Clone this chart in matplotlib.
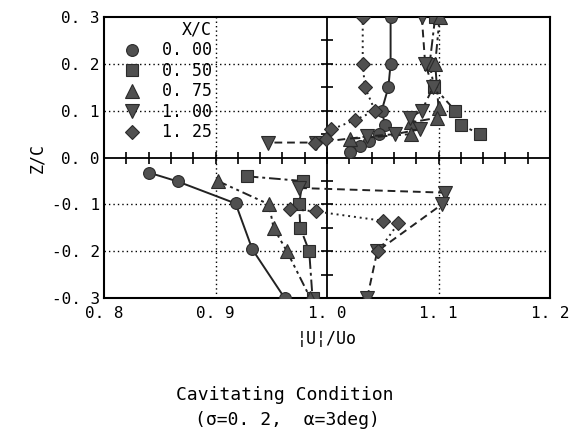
import matplotlib
matplotlib.use("Agg")
import matplotlib.pyplot as plt
import numpy as np
from matplotlib.lines import Line2D

# ---- data ----
labels = ["0. 00", "0. 50", "0. 75", "1. 00", "1. 25"]

c_up_z = [0.30, 0.20, 0.15, 0.10, 0.07, 0.05, 0.035, 0.025, 0.012]
c_up_x = [1.057, 1.057, 1.055, 1.049, 1.052, 1.047, 1.038, 1.030, 1.021]
c_lo_z = [-0.032, -0.051, -0.098, -0.196, -0.30]
c_lo_x = [0.840, 0.866, 0.918, 0.933, 0.962]

s_up_z = [0.30, 0.20, 0.15, 0.10, 0.07, 0.05]
s_up_x = [1.097, 1.092, 1.096, 1.115, 1.120, 1.137]
s_lo_z = [-0.040, -0.050, -0.100, -0.150, -0.200, -0.30]
s_lo_x = [0.928, 0.978, 0.975, 0.976, 0.984, 0.987]

tu_up_z = [0.30, 0.20, 0.105, 0.085, 0.075, 0.05, 0.04]
tu_up_x = [1.101, 1.097, 1.100, 1.099, 1.075, 1.075, 1.021]
tu_lo_z = [-0.050, -0.100, -0.150, -0.200, -0.30]
tu_lo_x = [0.902, 0.948, 0.952, 0.964, 0.985]

td_up_z = [0.30, 0.20, 0.15, 0.10, 0.085, 0.06, 0.05, 0.045, 0.032, 0.032]
td_up_x = [1.085, 1.088, 1.095, 1.085, 1.074, 1.083, 1.061, 1.036, 0.990, 0.947]
td_lo_z = [-0.065, -0.075, -0.100, -0.200, -0.30]
td_lo_x = [0.975, 1.106, 1.103, 1.045, 1.036]

d_up_z = [0.30, 0.20, 0.15, 0.10, 0.08, 0.06, 0.04, 0.032]
d_up_x = [1.032, 1.032, 1.034, 1.043, 1.025, 1.004, 0.999, 0.989]
d_lo_z = [-0.110, -0.115, -0.135, -0.140, -0.200]
d_lo_x = [0.967, 0.990, 1.050, 1.064, 1.046]

xticks = [0.8, 0.9, 1.0, 1.1, 1.2]
xticklabels = ["0. 8", "0. 9", "1. 0", "1. 1", "1. 2"]
yticks = [-0.3, -0.2, -0.1, 0.0, 0.1, 0.2, 0.3]
yticklabels = ["-0. 3", "-0. 2", "-0. 1", "0. 0", "0. 1", "0. 2", "0. 3"]

# ---- styles ----
FONT = "DejaVu Sans Mono"
FC = "#505050"
EC = "#2a2a2a"
styles = [
    dict(marker="o", ms=8.5, ls="-"),
    dict(marker="s", ms=8, ls=(0, (6, 2, 1.5, 2))),
    dict(marker="^", ms=10, ls=(0, (5, 2, 1.5, 2, 1.5, 2))),
    dict(marker="v", ms=10, ls=(0, (4, 2.5))),
    dict(marker="D", ms=7.5, ls=(0, (1, 2))),
]
series = [
    (c_up_x, c_up_z, c_lo_x, c_lo_z),
    (s_up_x, s_up_z, s_lo_x, s_lo_z),
    (tu_up_x, tu_up_z, tu_lo_x, tu_lo_z),
    (td_up_x, td_up_z, td_lo_x, td_lo_z),
    (d_up_x, d_up_z, d_lo_x, d_lo_z),
]

fig = plt.figure(figsize=(5.7, 4.32), dpi=100)
ax = fig.add_axes([0.1825, 0.310, 0.7825, 0.6506])
ax.set_xlim(0.8, 1.2)
ax.set_ylim(-0.3, 0.3)

# grid
for gx in [0.9, 1.1]:
    ax.axvline(gx, color="black", lw=1.0, ls=(0, (1, 2.2)), zorder=1)
for gy in [-0.2, -0.1, 0.1, 0.2]:
    ax.axhline(gy, color="black", lw=1.0, ls=(0, (1, 2.2)), zorder=1)

# crosshair axes with ticks
ax.axhline(0.0, color="black", lw=1.3, zorder=2)
ax.axvline(1.0, color="black", lw=1.3, zorder=2)
mx = np.arange(0.82, 1.19, 0.02)
ax.plot(mx, np.zeros_like(mx), ls="none", marker="|", ms=9, mew=1.2, color="black", zorder=2)
mz = np.array([-0.25, -0.2, -0.15, -0.1, -0.05, 0.05, 0.1, 0.15, 0.2, 0.25])
ax.plot(np.ones_like(mz), mz, ls="none", marker="_", ms=9, mew=1.2, color="black", zorder=2)

for (ux, uz, lx, lz), st in zip(series, styles):
    for xs, zs in [(ux, uz), (lx, lz)]:
        ax.plot(xs, zs, color="#222222", lw=1.4, ls=st["ls"], marker=st["marker"],
                ms=st["ms"], mfc=FC, mec=EC, mew=0.8, zorder=3)

ax.set_xticks(xticks)
ax.set_xticklabels(xticklabels, fontfamily=FONT, fontsize=11.5)
ax.set_yticks(yticks)
ax.set_yticklabels(yticklabels, fontfamily=FONT, fontsize=11.5)
ax.tick_params(axis="y", length=0, pad=3)
ax.tick_params(axis="x", length=0, pad=6)
for sp in ax.spines.values():
    sp.set_linewidth(1.5)

ax.set_ylabel("Z/C", fontfamily=FONT, fontsize=12, labelpad=4)
ax.set_xlabel("¦U¦/Uo", fontfamily=FONT, fontsize=12, labelpad=6)

handles = [Line2D([], [], ls="none", marker=st["marker"], ms=st["ms"], mfc=FC, mec=EC, mew=0.8)
           for st in styles]
leg = ax.legend(handles, labels, title="X/C", loc="upper left", bbox_to_anchor=(0.025, 1.01),
                frameon=False, prop={"family": FONT, "size": 12}, handletextpad=1.2,
                labelspacing=0.15, borderaxespad=0.0, handlelength=1.2)
leg.get_title().set_fontfamily(FONT)
leg.get_title().set_fontsize(12)
leg._legend_box.align = "right"

fig.text(0.50, 1 - 395 / 432, "Cavitating Condition", ha="center", va="center",
         fontfamily=FONT, fontsize=13)
fig.text(0.505, 1 - 420 / 432, "(σ=0. 2,  α=3deg)", ha="center", va="center",
         fontfamily=FONT, fontsize=13)

fig.savefig("out.png", dpi=100)
